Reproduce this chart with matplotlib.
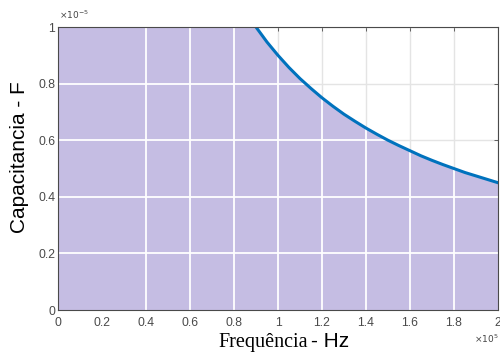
import matplotlib
matplotlib.use('Agg')
import matplotlib.pyplot as plt
import matplotlib.ticker

# capacitance curve (Hz, F)
freq = [90e3, 95e3, 100e3, 105e3, 110e3, 115e3, 120e3, 125e3, 130e3, 135e3, 140e3, 145e3,
        150e3, 155e3, 160e3, 165e3, 170e3, 175e3, 180e3, 185e3, 190e3, 195e3, 200e3]
cap = [1.000e-5, 0.947e-5, 0.900e-5, 0.857e-5, 0.818e-5, 0.783e-5, 0.750e-5, 0.720e-5,
       0.692e-5, 0.667e-5, 0.643e-5, 0.621e-5, 0.600e-5, 0.581e-5, 0.563e-5, 0.545e-5,
       0.529e-5, 0.514e-5, 0.500e-5, 0.486e-5, 0.474e-5, 0.462e-5, 0.450e-5]

xticks = [0, 20e3, 40e3, 60e3, 80e3, 100e3, 120e3, 140e3, 160e3, 180e3, 200e3]
yticks = [0, 0.2e-5, 0.4e-5, 0.6e-5, 0.8e-5, 1e-5]
xscale = 1e5
yscale = 1e-5

fillColor = '#c5bde3'
lineColor = '#0072bd'
axisColor = '#4a4a4a'

plt.rcParams.update({'font.family': 'Liberation Sans', 'font.size': 8.8})

fig = plt.figure(figsize=(5, 3.56), dpi=100)
ax = fig.add_axes([0.116, 0.129, 0.880, 0.795])

ax.set_xlim(0, 200e3)
ax.set_ylim(0, 1e-5)
ax.set_xticks(xticks)
ax.set_yticks(yticks)
ax.xaxis.set_major_formatter(matplotlib.ticker.FuncFormatter(lambda v, p: '%g' % round(v / xscale, 3)))
ax.yaxis.set_major_formatter(matplotlib.ticker.FuncFormatter(lambda v, p: '%g' % round(v / yscale, 3)))

# light grid for the empty part
ax.grid(True, color='#e4e4e4', linewidth=1.0, zorder=0)
ax.set_axisbelow(True)

# shaded region below the curve
poly_x = [0] + freq + [freq[-1], 0]
poly_y = [yticks[-1]] + cap + [0, 0]
region = ax.fill(poly_x, poly_y, color=fillColor, linewidth=0, zorder=1)[0]

# white grid on top of shaded region
for xv in xticks[2:-1]:
    ax.axvline(xv, color='white', linewidth=1.3, zorder=2, clip_path=region)
for yv in yticks[1:-1]:
    ax.axhline(yv, color='white', linewidth=1.3, zorder=2, clip_path=region)

ax.plot(freq, cap, color=lineColor, linewidth=2.2, zorder=3)

for s in ax.spines.values():
    s.set_color(axisColor)
    s.set_linewidth(0.8)
    s.set_zorder(4)
ax.tick_params(direction='in', length=3, width=0.6, colors=axisColor, labelcolor='#4a4a4a',
               top=True, right=True, labelsize=8.8)
ax.tick_params(axis='x', pad=5)
ax.tick_params(axis='y', pad=2)

# exponent labels
fig.text(0.118, 0.940, r'$\times10^{-5}$', fontsize=6.5, color='#444444', ha='left', va='bottom')
fig.text(0.998, 0.030, r'$\times10^{5}$', fontsize=6.5, color='#444444', ha='right', va='bottom')

ax.set_ylabel('Capacitancia - F', fontsize=15)
ax.yaxis.set_label_coords(-0.066, 0.539)
fig.text(0.616, 0.025, 'Frequência', fontsize=14.5, family='Liberation Serif', ha='right', va='baseline')
fig.text(0.622, 0.025, '- Hz', fontsize=15, ha='left', va='baseline')

fig.savefig('out.png', dpi=100)
